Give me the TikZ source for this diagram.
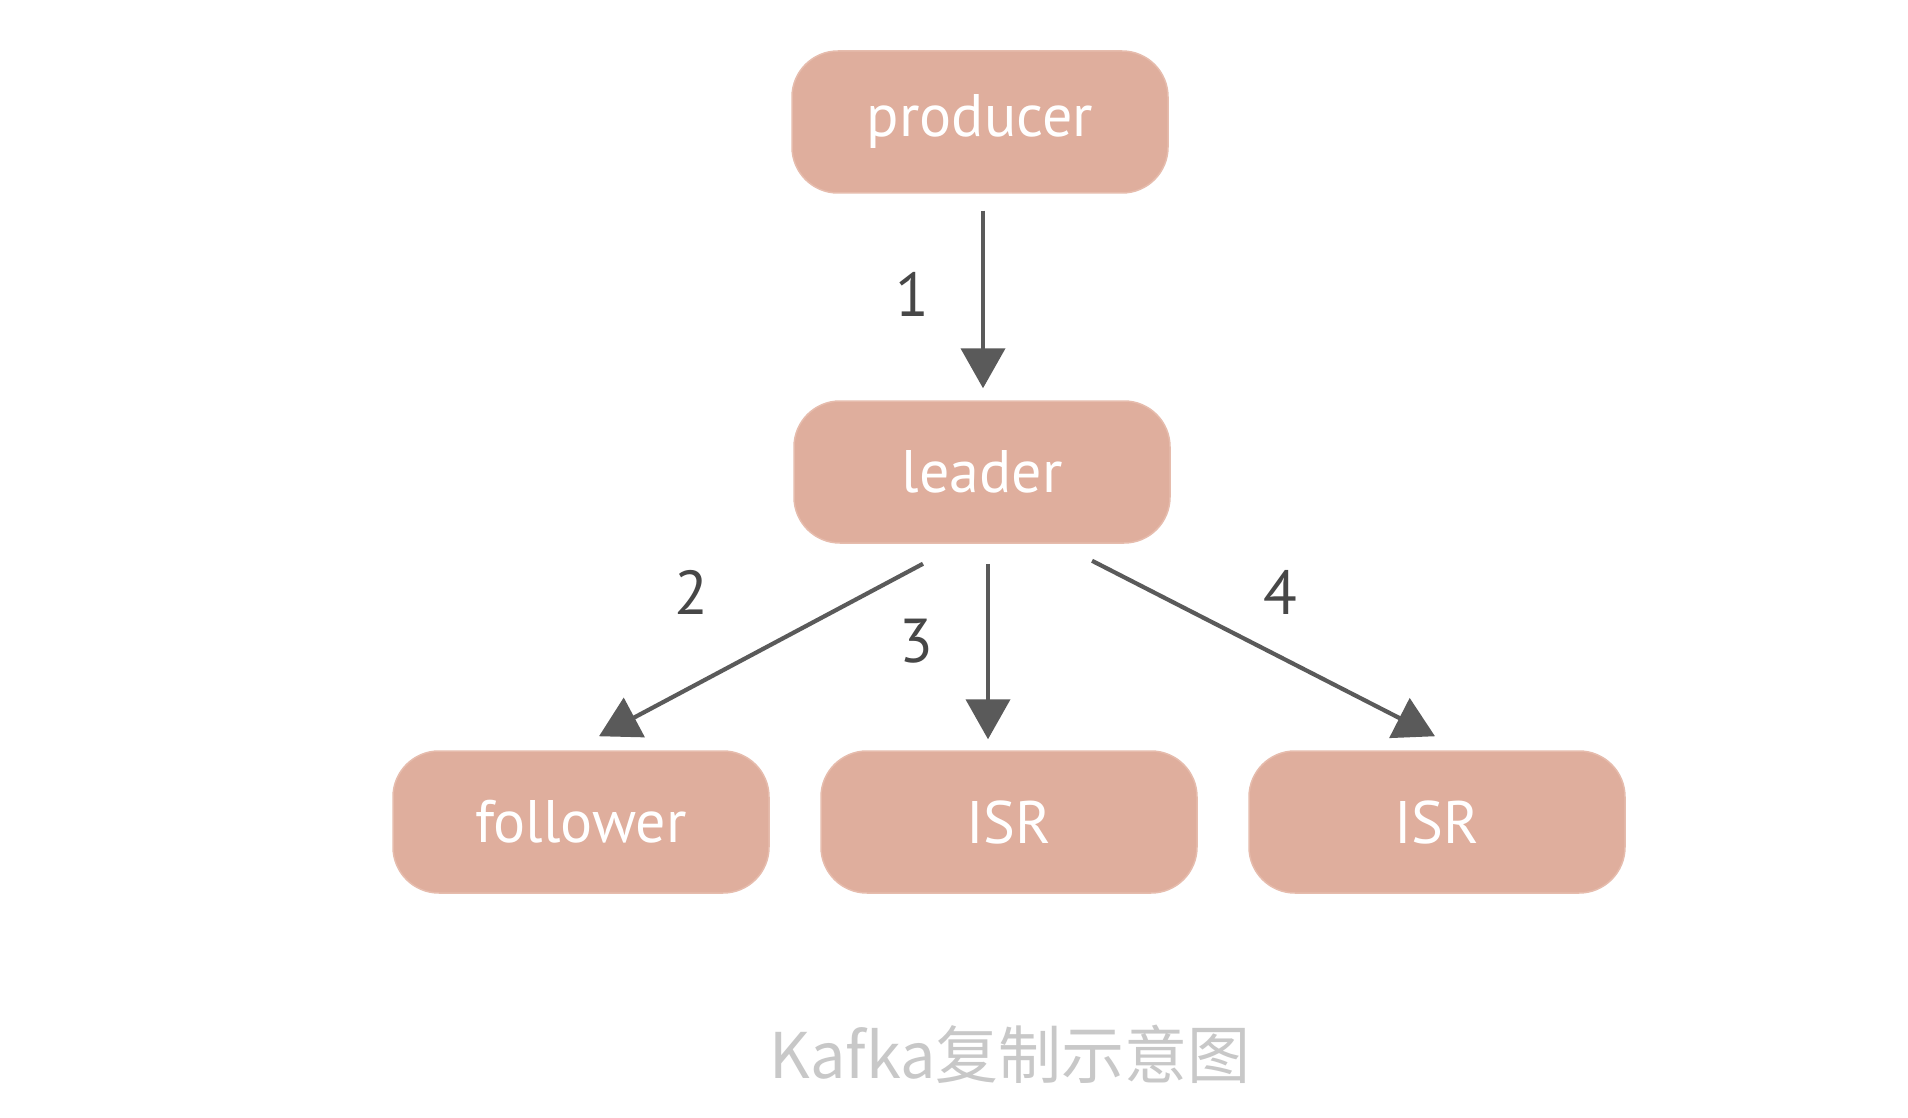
\documentclass[tikz,border=0pt]{standalone}
\usepackage{fontspec}
\usetikzlibrary{arrows.meta,calc}
\newfontfamily\boxfont{PT Sans}
\newfontfamily\cjk{Noto Sans CJK SC}
\definecolor{boxfill}{HTML}{DFAE9D}
\definecolor{boxedge}{HTML}{E6BCAD}
\definecolor{arrowgray}{HTML}{5A5A5A}
\definecolor{labelgray}{HTML}{474747}
\definecolor{capgray}{HTML}{C8C8C8}
\begin{document}
\begin{tikzpicture}[x=1pt,y=-1pt,
  box/.style={rectangle, rounded corners=46pt, fill=boxfill, draw=boxedge, line width=1.5pt,
    minimum width=376pt, minimum height=142pt, inner sep=0pt, text=white,
    font=\boxfont\fontsize{60pt}{70pt}\selectfont},
  conn/.style={draw=arrowgray, line width=4.2pt,
    -{Triangle[width=44pt,length=40pt]}, arrowgray},
  numlabel/.style={text=labelgray, font=\boxfont\fontsize{62pt}{70pt}\selectfont, inner sep=0pt}]
\useasboundingbox (0,0) rectangle (1908,1118);
\fill[white] (0,0) rectangle (1908,1118);
\node[box] (producer) at (980,122) {producer};
\node[box] (leader) at (982,472) {leader};
\node[box] (follower) at (581,822) {follower};
\node[box] (isr1) at (1009,822) {ISR};
\node[box] (isr2) at (1437,822) {ISR};
\draw[conn] ($(producer.south)+(3,17)$) -- ($(leader.north)+(1,-12)$);
\draw[conn] ($(leader.south)+(-59,20)$) -- ($(follower.north)+(18,-14)$);
\draw[conn] ($(leader.south)+(6,20)$) -- ($(isr1.north)+(-21,-11)$);
\draw[conn] ($(leader.south)+(110,17)$) -- ($(isr2.north)+(-2,-14)$);
\node[numlabel] (l1) at (912,294) {1};
\node[numlabel] (l2) at (691,592) {2};
\node[numlabel] (l3) at (916,641) {3};
\node[numlabel] (l4) at (1280,592) {4};
\node[text=capgray, font=\cjk\fontsize{63pt}{70pt}\selectfont, inner sep=0pt] (caption) at (1010,1054) {Kafka复制示意图};
\end{tikzpicture}
\end{document}
